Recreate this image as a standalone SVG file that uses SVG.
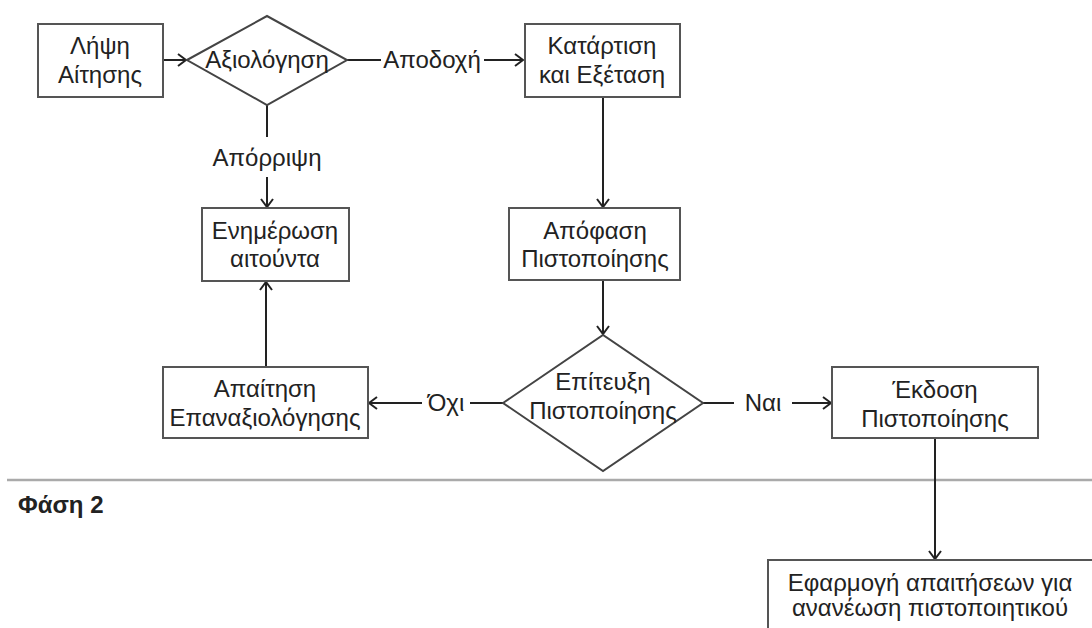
<svg xmlns="http://www.w3.org/2000/svg" width="1092" height="628" viewBox="0 0 1092 628">
<defs>
<style>
.box{fill:#fff;stroke:#555;stroke-width:2}
.dia{fill:#fff;stroke:#444;stroke-width:2}
.t{font-family:"Liberation Sans",Arial,sans-serif;font-size:24px;fill:#222;text-anchor:middle}
.lbl{font-family:"Liberation Sans",Arial,sans-serif;font-size:24px;fill:#222}
.c{fill:none;stroke:#222;stroke-width:2}
.sep{stroke:#aaa;stroke-width:2.5}
</style>
<marker id="ah" markerUnits="userSpaceOnUse" markerWidth="16" markerHeight="16" refX="12" refY="8" orient="auto">
<path d="M4,2 L12,8 L4,14" fill="none" stroke="#222" stroke-width="2"/>
</marker>
</defs>
<rect width="1092" height="628" fill="#fff"/>

<line class="sep" x1="7" y1="480" x2="1092" y2="480"/>
<text x="18" y="513" font-family="Liberation Sans,Arial,sans-serif" font-size="24" font-weight="bold" fill="#222">Φάση 2</text>

<g id="connectors">
<line class="c" x1="163" y1="60" x2="186" y2="60" marker-end="url(#ah)"/>
<line class="c" x1="347" y1="60" x2="381" y2="60"/>
<line class="c" x1="484" y1="60" x2="523" y2="60" marker-end="url(#ah)"/>
<line class="c" x1="267" y1="105" x2="267" y2="137"/>
<line class="c" x1="267" y1="177" x2="267" y2="207" marker-end="url(#ah)"/>
<line class="c" x1="603" y1="97" x2="603" y2="207" marker-end="url(#ah)"/>
<line class="c" x1="603" y1="280" x2="603" y2="334" marker-end="url(#ah)"/>
<line class="c" x1="503" y1="403" x2="470" y2="403"/>
<line class="c" x1="422" y1="403" x2="369" y2="403" marker-end="url(#ah)"/>
<line class="c" x1="703" y1="403" x2="734" y2="403"/>
<line class="c" x1="792" y1="403" x2="831" y2="403" marker-end="url(#ah)"/>
<line class="c" x1="266" y1="367" x2="266" y2="282" marker-end="url(#ah)"/>
<line class="c" x1="935" y1="438" x2="935" y2="559" marker-end="url(#ah)"/>
<text class="t" x="432" y="68">Αποδοχή</text>
<text class="t" x="267" y="166">Απόρριψη</text>
<text class="t" x="446" y="411">Όχι</text>
<text class="t" x="763" y="411">Ναι</text>
</g>

<g id="n1"><rect class="box" x="38" y="24" width="125" height="73"/>
<text class="t" x="100" y="54">Λήψη</text><text class="t" x="100" y="83">Αίτησης</text></g>

<g id="n2"><polygon class="dia" points="187,60 267,16 347,60 267,105"/>
<text class="t" x="267" y="68">Αξιολόγηση</text></g>

<g id="n3"><rect class="box" x="525" y="24" width="155" height="73"/>
<text class="t" x="602" y="54">Κατάρτιση</text><text class="t" x="602" y="83">και Εξέταση</text></g>

<g id="n4"><rect class="box" x="202" y="208" width="147" height="73"/>
<text class="t" x="275" y="239">Ενημέρωση</text><text class="t" x="275" y="267">αιτούντα</text></g>

<g id="n5"><rect class="box" x="509" y="208" width="171" height="72"/>
<text class="t" x="595" y="239">Απόφαση</text><text class="t" x="595" y="267">Πιστοποίησης</text></g>

<g id="n6"><polygon class="dia" points="503,403 603,335 703,403 603,471"/>
<text class="t" x="603" y="390">Επίτευξη</text><text class="t" x="603" y="419">Πιστοποίησης</text></g>

<g id="n7"><rect class="box" x="163" y="367" width="205" height="71"/>
<text class="t" x="265" y="397">Απαίτηση</text><text class="t" x="265" y="426">Επαναξιολόγησης</text></g>

<g id="n8"><rect class="box" x="832" y="367" width="206" height="71"/>
<text class="t" x="935" y="398">Έκδοση</text><text class="t" x="935" y="427">Πιστοποίησης</text></g>

<g id="n9"><rect class="box" x="768" y="560" width="340" height="90"/>
<text class="t" x="930" y="591" font-size="25">Εφαρμογή απαιτήσεων για</text><text class="t" x="930" y="616" font-size="25">ανανέωση πιστοποιητικού</text></g>
</svg>
